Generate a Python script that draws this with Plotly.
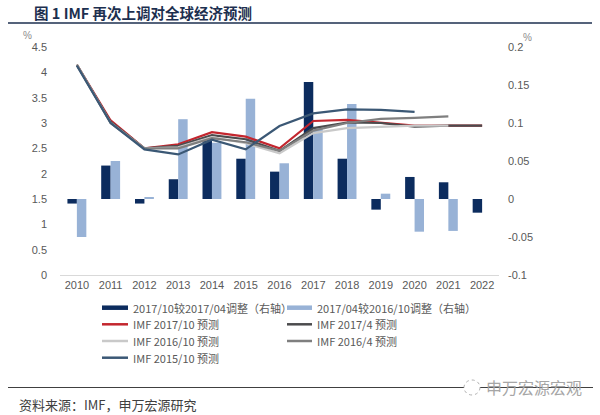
import plotly.graph_objects as go

years = ["2010", "2011", "2012", "2013", "2014", "2015", "2016",
         "2017", "2018", "2019", "2020", "2021", "2022"]

# Bars (right axis, %)
adj_1710_vs_1704 = [-0.006, 0.044, -0.006, 0.026, 0.080, 0.053, 0.036,
                    0.154, 0.053, -0.014, 0.029, 0.022, -0.018]
adj_1704_vs_1610 = [-0.050, 0.050, 0.002, 0.105, 0.074, 0.132, 0.047,
                    0.093, 0.125, 0.007, -0.043, -0.042, None]

# Lines (left axis, %)
imf_1710 = [4.15, 3.05, 2.50, 2.58, 2.82, 2.73, 2.50, 3.04, 3.06, 3.00, 2.95, 2.95, 2.95]
imf_1704 = [4.15, 3.02, 2.50, 2.55, 2.76, 2.68, 2.45, 2.90, 3.01, 3.00, 2.93, 2.95, 2.95]
imf_1610 = [4.15, 3.00, 2.50, 2.52, 2.72, 2.60, 2.40, 2.80, 2.90, 2.93, 2.95, 2.95, None]
imf_1604 = [4.15, 3.00, 2.50, 2.50, 2.70, 2.62, 2.45, 2.85, 3.00, 3.08, 3.10, 3.13, None]
imf_1510 = [4.13, 3.00, 2.48, 2.38, 2.67, 2.48, 2.94, 3.19, 3.27, 3.26, 3.22, None, None]

left_ticks = [0, 0.5, 1, 1.5, 2, 2.5, 3, 3.5, 4, 4.5]
left_ticktext = ["0", "0.5", "1", "1.5", "2", "2.5", "3", "3.5", "4", "4.5"]
right_ticks = [-0.1, -0.05, 0, 0.05, 0.1, 0.15, 0.2]
right_ticktext = ["-0.1", "-0.05", "0", "0.05", "0.1", "0.15", "0.2"]

FONT = "Liberation Sans, Arial, Noto Sans CJK SC, sans-serif"
CJK = "Noto Sans CJK SC, Liberation Sans, sans-serif"
TXT = "#595959"

# plot area in pixels
L, R, T, B = 60, 499, 47, 275
def px(x):
    return (x - L) / (R - L)
def py(y):
    return (B - y) / (B - T)

bar_series = [
    ("2017/10较2017/04调整（右轴）", adj_1710_vs_1704, "#0c2c5e"),
    ("2017/04较2016/10调整（右轴）", adj_1704_vs_1610, "#98b2d6"),
]
line_series = [
    ("IMF 2017/10 预测", imf_1710, "#c3262e"),
    ("IMF 2017/4 预测", imf_1704, "#4b4b4d"),
    ("IMF 2016/10 预测", imf_1610, "#c9c9c9"),
    ("IMF 2016/4 预测", imf_1604, "#7f7f7f"),
    ("IMF 2015/10 预测", imf_1510, "#3b5875"),
]

fig = go.Figure()
for name, vals, col in bar_series:
    fig.add_trace(go.Bar(x=years, y=vals, name=name,
                         marker=dict(color=col, line=dict(width=0)), yaxis="y"))
for name, vals, col in line_series:
    fig.add_trace(go.Scatter(x=years, y=vals, name=name, mode="lines",
                             line=dict(color=col, width=2.2), yaxis="y2",
                             connectgaps=False))

fig.update_layout(
    width=600, height=415,
    margin=dict(l=L, r=600 - R, t=T, b=415 - B, pad=0),
    paper_bgcolor="white", plot_bgcolor="white",
    barmode="group", bargap=0.44, bargroupgap=0,
    font=dict(family=FONT, size=11, color=TXT),
    showlegend=False,
    xaxis=dict(type="category", range=[-0.5, 12.5], showgrid=False,
               showline=True, linecolor="#d9d9d9", linewidth=1,
               ticks="", tickfont=dict(size=11, color=TXT), zeroline=False),
    yaxis=dict(side="right", range=[-0.1, 0.2], tickvals=right_ticks,
               ticktext=right_ticktext, showgrid=False, zeroline=False,
               showline=False, ticks="", ticklabelstandoff=8,
               tickfont=dict(size=11, color=TXT)),
    yaxis2=dict(side="left", overlaying="y", range=[0, 4.5], tickvals=left_ticks,
                ticktext=left_ticktext, showgrid=False, zeroline=False,
                showline=False, ticks="", ticklabelstandoff=12,
                tickfont=dict(size=11, color=TXT)),
)

ann = [
    dict(text="<b>图 1 IMF 再次上调对全球经济预测</b>", x=px(20), y=py(13), xanchor="left",
         yanchor="middle", xshift=12, font=dict(family=CJK, size=14.5, color="#1c2f4f")),
    dict(text="%", x=px(27), y=py(36), xanchor="center", yanchor="middle",
         font=dict(size=10, color="#8c8c8c")),
    dict(text="%", x=px(527), y=py(37), xanchor="center", yanchor="middle",
         font=dict(size=10, color="#8c8c8c")),
    dict(text="资料来源：IMF，申万宏源研究", x=px(17), y=py(404), xanchor="left",
         yanchor="middle", font=dict(family=CJK, size=13, color="#404040")),
    dict(text="申万宏源宏观", x=px(484), y=py(387), xanchor="left", yanchor="middle",
         font=dict(family=CJK, size=16, color="#a6a6a6")),
]

shapes = [
    dict(type="line", xref="paper", yref="paper", x0=px(8), x1=px(592),
         y0=py(23), y1=py(23), line=dict(color="#1c2f4f", width=1.5)),
    dict(type="line", xref="paper", yref="paper", x0=px(8), x1=px(593),
         y0=py(387.5), y1=py(387.5), line=dict(color="#404040", width=1.2)),
    dict(type="circle", xref="paper", yref="paper", x0=px(464), x1=px(480),
         y0=py(395), y1=py(380), line=dict(color="#b0b0b0", width=1, dash="dot"),
         fillcolor="white"),
]

# manual legend (two columns)
legend_items = [(n, c, "bar") for n, _, c in bar_series] + \
               [(n, c, "line") for n, _, c in line_series]
row_y = [307.7, 324.3, 341.0, 357.7]
col_x = [(102, 128, 131), (287, 312, 315)]
for i, (name, col, kind) in enumerate(legend_items):
    r, c = divmod(i, 2)
    x0, x1, xt = col_x[c]
    yy = row_y[r]
    shapes.append(dict(type="line", xref="paper", yref="paper", x0=px(x0), x1=px(x1),
                       y0=py(yy), y1=py(yy),
                       line=dict(color=col, width=4.5 if kind == "bar" else 2.5)))
    ann.append(dict(text=name, x=px(xt), y=py(yy), xanchor="left", yanchor="middle",
                    font=dict(family=CJK, size=11, color=TXT)))

for a in ann:
    a.update(xref="paper", yref="paper", showarrow=False)
fig.update_layout(annotations=ann, shapes=shapes)

fig.write_html("out.html", config={"displayModeBar": False},
               post_script="document.body.style.margin='0px';document.body.style.overflow='hidden';")
